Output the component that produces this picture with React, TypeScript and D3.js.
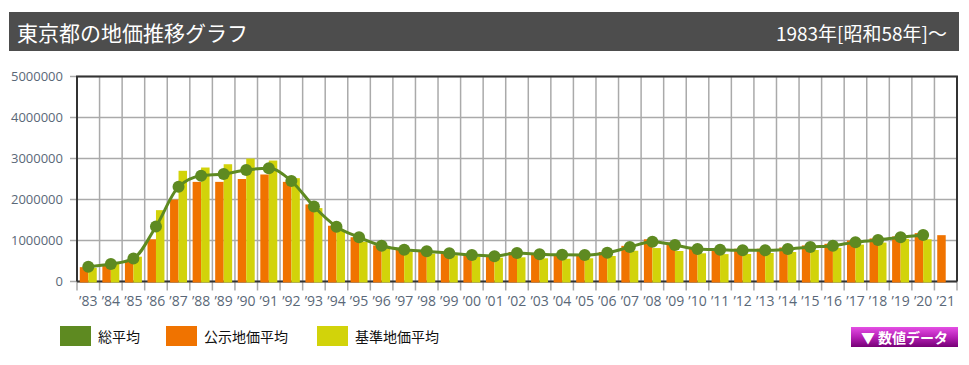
import { useEffect, useRef } from 'react';
import * as d3 from 'd3';

// 年ラベル（'83〜'21）
const years = [
  '83', '84', '85', '86', '87', '88', '89', '90', '91', '92',
  '93', '94', '95', '96', '97', '98', '99', '00', '01', '02',
  '03', '04', '05', '06', '07', '08', '09', '10', '11', '12',
  '13', '14', '15', '16', '17', '18', '19', '20', '21',
];

// 公示地価平均
const publicAvg = [
  350000, 380000, 490000, 1030000, 2000000, 2430000, 2430000, 2500000, 2610000, 2430000,
  1880000, 1360000, 1080000, 880000, 770000, 720000, 670000, 640000, 630000, 720000,
  660000, 660000, 650000, 720000, 870000, 1030000, 950000, 810000, 810000, 800000,
  800000, 830000, 880000, 920000, 1000000, 1050000, 1100000, 1180000, 1130000,
];

// 基準地価平均
const standardAvg: (number | null)[] = [
  330000, 450000, 605000, 1740000, 2700000, 2780000, 2860000, 3000000, 2950000, 2520000,
  1790000, 1240000, 970000, 810000, 730000, 680000, 640000, 600000, 580000, 590000,
  566000, 555000, 566000, 622000, 751000, 815000, 744000, 688000, 668000, 671000,
  695000, 720000, 768000, 820000, 900000, 950000, 1040000, 1030000, null,
];

// 総平均
const totalAvg: (number | null)[] = [
  360000, 425000, 560000, 1340000, 2310000, 2580000, 2620000, 2720000, 2760000, 2450000,
  1830000, 1337000, 1078000, 873000, 775000, 740000, 688000, 646000, 618000, 695000,
  665000, 650000, 646000, 703000, 840000, 971000, 890000, 793000, 775000, 760000,
  760000, 790000, 840000, 873000, 960000, 1012000, 1080000, 1134000, null,
];

const yTicks = [0, 1000000, 2000000, 3000000, 4000000, 5000000];

const legendItems = [
  { label: '総平均', color: '#5e8a21' },
  { label: '公示地価平均', color: '#f07300' },
  { label: '基準地価平均', color: '#d2d30a' },
];

const GREEN = '#5e8a21';
const ORANGE = '#f07300';
const YELLOW = '#d2d30a';
const LABEL = '#5a6878';
const JP = '"Noto Sans CJK JP", "Noto Sans", sans-serif';

export default function App() {
  const svgRef = useRef<SVGSVGElement>(null);

  useEffect(() => {
    if (!svgRef.current) return;
    const svg = d3.select(svgRef.current);
    svg.selectAll('*').remove();

    const left = 77;
    const right = 957;
    const top = 76.5;
    const bottom = 281.5;

    const x = d3.scaleBand<string>().domain(years).range([left, right]);
    const inner = d3.scaleBand<string>()
      .domain(['pub', 'std'])
      .range([0, x.bandwidth()])
      .paddingOuter(0.33);
    const y = d3.scaleLinear().domain([0, 5000000]).range([bottom, top]);

    // header
    const defs = svg.append('defs');
    const grad = defs.append('linearGradient')
      .attr('id', 'btnGrad')
      .attr('x1', 0).attr('y1', 0).attr('x2', 0).attr('y2', 1);
    grad.append('stop').attr('offset', '0%').attr('stop-color', '#e44ee4');
    grad.append('stop').attr('offset', '50%').attr('stop-color', '#b620b6');
    grad.append('stop').attr('offset', '100%').attr('stop-color', '#760076');

    svg.append('rect')
      .attr('x', 9).attr('y', 12)
      .attr('width', 950).attr('height', 39)
      .attr('fill', '#4d4d4d');

    svg.append('text')
      .attr('x', 17).attr('y', 32)
      .attr('dominant-baseline', 'central')
      .attr('fill', '#fff')
      .style('font-family', JP)
      .style('font-size', '21px')
      .text('東京都の地価推移グラフ');

    svg.append('text')
      .attr('x', 947).attr('y', 32)
      .attr('text-anchor', 'end')
      .attr('dominant-baseline', 'central')
      .attr('fill', '#fff')
      .style('font-family', JP)
      .style('font-size', '19px')
      .text('1983年[昭和58年]～');

    const g = svg.append('g');

    // horizontal grid + left tick marks
    g.selectAll('.hgrid')
      .data(yTicks)
      .enter()
      .append('line')
      .attr('x1', left - 7)
      .attr('x2', right)
      .attr('y1', d => y(d))
      .attr('y2', d => y(d))
      .attr('stroke', '#aaa')
      .attr('stroke-width', 1.5);

    // vertical grid, extending below the axis
    const bounds = years.map(d => x(d)!).concat([right]);
    g.selectAll('.vgrid')
      .data(bounds)
      .enter()
      .append('line')
      .attr('x1', d => d)
      .attr('x2', d => d)
      .attr('y1', top)
      .attr('y2', bottom + 9)
      .attr('stroke', '#aaa')
      .attr('stroke-width', 1.5);

    // bottom axis line (bars sit on top of it)
    g.append('line')
      .attr('x1', left).attr('x2', right)
      .attr('y1', bottom).attr('y2', bottom)
      .attr('stroke', '#333')
      .attr('stroke-width', 2);

    // y axis labels
    const yAxis = g.append('g')
      .attr('transform', `translate(${left},0)`)
      .call(d3.axisLeft(y).tickValues(yTicks).tickFormat(d3.format('d')).tickSize(0).tickPadding(14));
    yAxis.select('.domain').remove();
    yAxis.selectAll('text')
      .attr('fill', LABEL)
      .style('font-family', '"Open Sans", sans-serif')
      .style('font-size', '13px');

    // x axis labels
    const xAxis = g.append('g')
      .attr('transform', `translate(0,${bottom})`)
      .call(d3.axisBottom(x).tickSize(0).tickPadding(15).tickFormat(d => `’${d}`));
    xAxis.select('.domain').remove();
    xAxis.selectAll('text')
      .attr('fill', LABEL)
      .style('font-family', '"Open Sans", sans-serif')
      .style('font-size', '14px');

    // bars
    g.selectAll('.pub-bar')
      .data(years)
      .enter()
      .append('rect')
      .attr('x', d => x(d)! + inner('pub')!)
      .attr('width', inner.bandwidth())
      .attr('y', (_, i) => y(publicAvg[i]))
      .attr('height', (_, i) => bottom - y(publicAvg[i]) + 1)
      .attr('fill', ORANGE);

    g.selectAll('.std-bar')
      .data(years.filter((_, i) => standardAvg[i] != null))
      .enter()
      .append('rect')
      .attr('x', d => x(d)! + inner('std')!)
      .attr('width', inner.bandwidth())
      .attr('y', (_, i) => y(standardAvg[i] as number))
      .attr('height', (_, i) => bottom - y(standardAvg[i] as number) + 1)
      .attr('fill', YELLOW);

    // plot frame
    g.append('path')
      .attr('d', `M${left},${bottom}V${top}H${right}V${bottom}`)
      .attr('fill', 'none')
      .attr('stroke', '#333')
      .attr('stroke-width', 2);

    // total average line
    const pts = years
      .map((d, i) => ({ cx: x(d)! + x.bandwidth() / 2, v: totalAvg[i] }))
      .filter(p => p.v != null) as { cx: number; v: number }[];

    const line = d3.line<{ cx: number; v: number }>()
      .x(p => p.cx)
      .y(p => y(p.v))
      .curve(d3.curveMonotoneX);

    g.append('path')
      .datum(pts)
      .attr('d', line)
      .attr('fill', 'none')
      .attr('stroke', GREEN)
      .attr('stroke-width', 3);

    g.selectAll('.pt')
      .data(pts)
      .enter()
      .append('circle')
      .attr('cx', p => p.cx)
      .attr('cy', p => y(p.v))
      .attr('r', 6)
      .attr('fill', GREEN);

    // legend
    const legendX = [60, 166, 317];
    const lg = svg.append('g');
    legendItems.forEach((item, i) => {
      lg.append('rect')
        .attr('x', legendX[i]).attr('y', 326)
        .attr('width', 31).attr('height', 20)
        .attr('fill', item.color);
      lg.append('text')
        .attr('x', legendX[i] + 38).attr('y', 336)
        .attr('dominant-baseline', 'central')
        .attr('fill', '#111')
        .style('font-family', JP)
        .style('font-size', '14px')
        .text(item.label);
    });

    // button
    svg.append('rect')
      .attr('x', 851).attr('y', 327)
      .attr('width', 107).attr('height', 20)
      .attr('fill', 'url(#btnGrad)');
    svg.append('text')
      .attr('x', 904.5).attr('y', 337)
      .attr('text-anchor', 'middle')
      .attr('dominant-baseline', 'central')
      .attr('fill', '#fff')
      .style('font-family', JP)
      .style('font-size', '14px')
      .style('font-weight', 'bold')
      .text('▼ 数値データ');
  }, []);

  return (
    <svg
      ref={svgRef}
      width={969}
      height={365}
      style={{ position: 'absolute', left: 0, top: 0, background: '#fff' }}
    />
  );
}
